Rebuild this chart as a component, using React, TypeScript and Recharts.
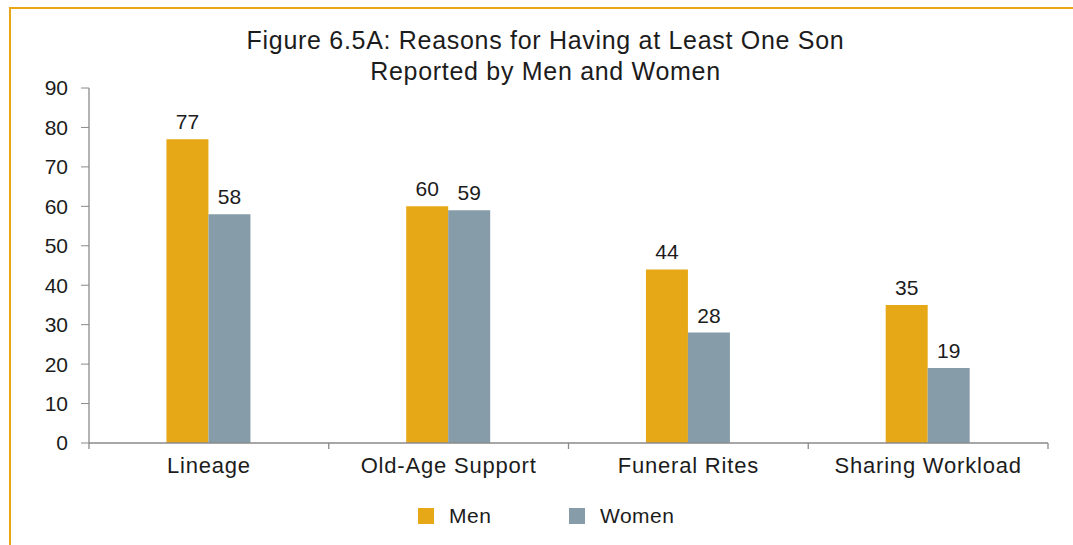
import React from 'react';
import { BarChart, Bar, XAxis, YAxis, Legend, LabelList } from 'recharts';

const categories = ['Lineage', 'Old-Age Support', 'Funeral Rites', 'Sharing Workload'];
const menValues = [77, 60, 44, 35];
const womenValues = [58, 59, 28, 19];
const yTicks = [0, 10, 20, 30, 40, 50, 60, 70, 80, 90];
const titleLines = ['Figure 6.5A: Reasons for Having at Least One Son', 'Reported by Men and Women'];

const data = categories.map((c, i) => ({ name: c, Men: menValues[i], Women: womenValues[i] }));

const MEN = '#E6A817';
const WOMEN = '#869CA8';
const FRAME = '#E9A616';
const AXIS = '#8a8a8a';
const TEXT = '#1c1c1c';
const FONT = '"Liberation Sans", Arial, Helvetica, sans-serif';
const X_TICK_SIZE = 6;
const X_TICK_MARGIN = 8;

const CategoryTick = (props: any) => {
  const { x, y, payload, index, visibleTicksCount } = props;
  const half = payload && payload.offset ? payload.offset : 0;
  const axisY = y - X_TICK_SIZE - X_TICK_MARGIN;
  const last = index === (visibleTicksCount ?? categories.length) - 1;
  return (
    <g>
      <line x1={x - half} x2={x - half} y1={axisY} y2={axisY + X_TICK_SIZE} stroke={AXIS} strokeWidth={1.3} />
      {last && <line x1={x + half} x2={x + half} y1={axisY} y2={axisY + X_TICK_SIZE} stroke={AXIS} strokeWidth={1.3} />}
      <text x={x} y={y} dy="0.71em" textAnchor="middle" fill={TEXT} fontSize={22} fontFamily={FONT} letterSpacing={0.8}>{payload.value}</text>
    </g>
  );
};

const LegendContent = (props: any) => {
  const payload = props.payload || [];
  return (
    <div style={{ height: 40, display: 'flex', alignItems: 'center', paddingLeft: 418, fontFamily: FONT, fontSize: 21, color: TEXT }}>
      {payload.map((p: any, i: number) => (
        <div key={p.value} style={{ display: 'flex', alignItems: 'center', width: i === 0 ? 151 : 'auto' }}>
          <span style={{ display: 'inline-block', width: 16, height: 16, background: p.color, marginRight: 15 }} />
          <span style={{ letterSpacing: 0.5 }}>{p.value}</span>
        </div>
      ))}
    </div>
  );
};

export default function App() {
  return (
    <div style={{ position: 'absolute', left: 0, top: 0, width: 1073, height: 545, background: '#fff', overflow: 'hidden' }}>
      <div style={{ position: 'absolute', left: 9, top: 7, right: 0, bottom: 0, borderTop: `2px solid ${FRAME}`, borderLeft: `2px solid ${FRAME}` }} />
      {titleLines.map((t, i) => (
        <div key={i} style={{ position: 'absolute', left: 0, width: 1091, top: 25 + i * 30.5, lineHeight: '30px', textAlign: 'center', fontFamily: FONT, fontSize: 25, letterSpacing: 0.7, color: TEXT, whiteSpace: 'nowrap' }}>{t}</div>
      ))}
      <div style={{ position: 'absolute', left: 0, top: 0 }}>
        <BarChart width={1073} height={545} data={data} margin={{ top: 88, right: 25, bottom: 17, left: 0 }} barCategoryGap="32.3%" barGap={0}>
          <XAxis dataKey="name" height={45} axisLine={{ stroke: AXIS, strokeWidth: 1.3 }} tickLine={false} tickSize={X_TICK_SIZE} tickMargin={X_TICK_MARGIN} tick={<CategoryTick />} interval={0} />
          <YAxis domain={[0, 90]} ticks={yTicks} width={89} axisLine={{ stroke: AXIS, strokeWidth: 1.3 }} tickLine={{ stroke: AXIS }} tickSize={8} tickMargin={13} tick={{ fill: TEXT, fontSize: 21, fontFamily: FONT }} interval={0} />
          <Legend verticalAlign="bottom" content={<LegendContent />} wrapperStyle={{ top: 496, left: 0, width: 1073, height: 40 }} />
          <Bar dataKey="Men" fill={MEN} isAnimationActive={false}>
            <LabelList dataKey="Men" position="top" offset={10} style={{ fill: TEXT, fontSize: 21, fontFamily: FONT }} />
          </Bar>
          <Bar dataKey="Women" fill={WOMEN} isAnimationActive={false}>
            <LabelList dataKey="Women" position="top" offset={10} style={{ fill: TEXT, fontSize: 21, fontFamily: FONT }} />
          </Bar>
        </BarChart>
      </div>
    </div>
  );
}
